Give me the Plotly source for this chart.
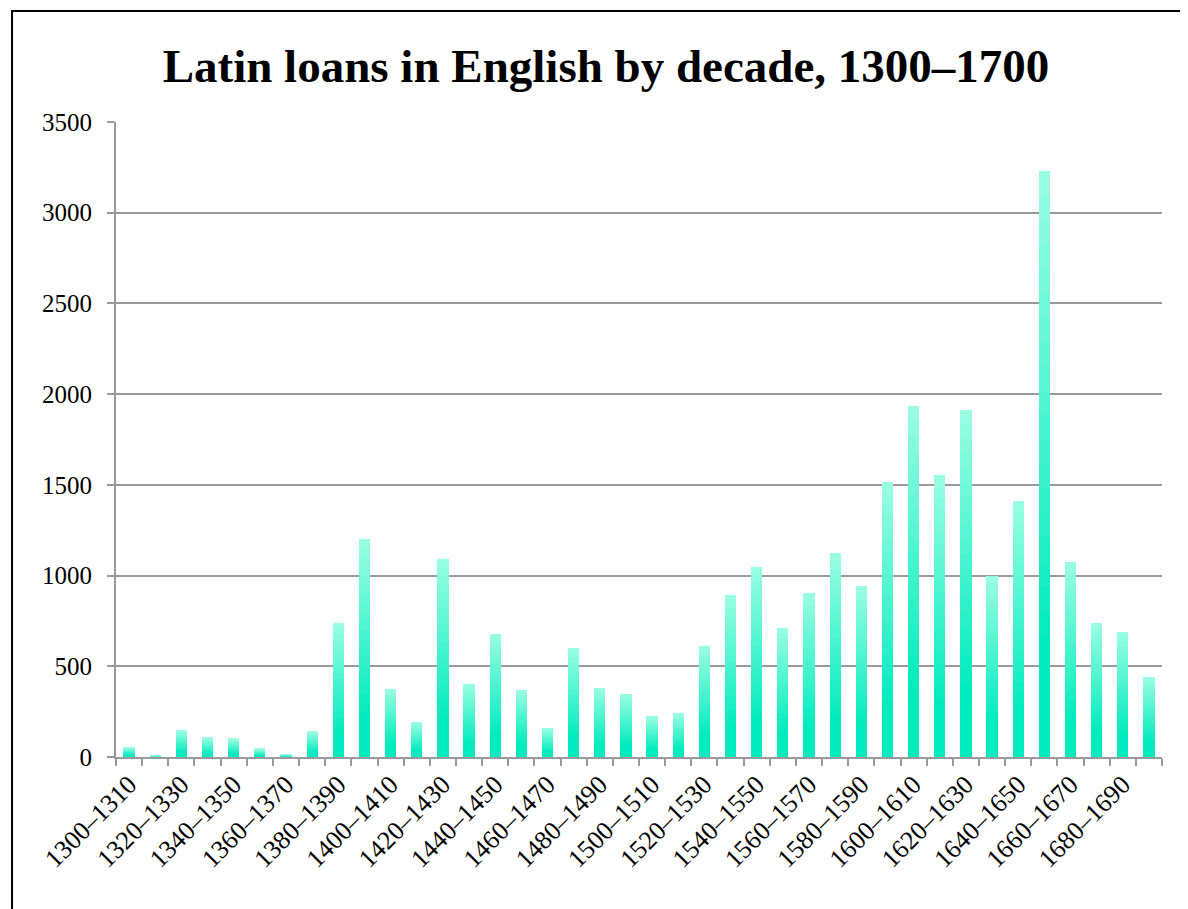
import plotly.graph_objects as go

starts = list(range(1300, 1700, 10))
categories = [f"{s}\u2013{s + 10}" for s in starts]
loans = [55, 10, 145, 105, 100, 45, 15, 140, 740, 1200,
         375, 190, 1090, 405, 680, 370, 160, 600, 380, 345,
         225, 240, 610, 895, 1050, 710, 905, 1125, 945, 1515,
         1935, 1555, 1915, 1000, 1410, 3230, 1075, 740, 690, 440]
tick_labels = [c if i % 2 == 0 else "" for i, c in enumerate(categories)]

TITLE = "Latin loans in English by decade, 1300\u20131700"

# gradient look: stack thin layers of each bar, colour going from deep to pale
BOTTOM = (0, 235, 190)
TOP = (155, 255, 226)
K = 24


def col(t):
    f = max(0.0, (t - 0.18) / 0.82)
    r, g, b = [round(BOTTOM[j] + (TOP[j] - BOTTOM[j]) * f) for j in range(3)]
    return f"rgb({r},{g},{b})"


fig = go.Figure()
for k in range(K):
    fig.add_trace(go.Bar(
        x=categories,
        y=[v / K for v in loans],
        customdata=loans,
        marker=dict(color=col((k + 0.5) / K), line=dict(width=0)),
        hovertemplate="%{x}: %{customdata}<extra></extra>",
        showlegend=False,
    ))

W, H = 1180, 901
fig.update_layout(
    width=W, height=H,
    barmode="stack", bargap=0.57,
    paper_bgcolor="white", plot_bgcolor="white",
    margin=dict(l=108, r=26, t=114, b=152),
    font=dict(family="Liberation Serif, Times New Roman, serif", color="black"),
    title=dict(text=TITLE, x=598 / W, xanchor="center", y=1 - 58 / H, yanchor="middle",
               font=dict(size=47, family="Liberation Serif, Times New Roman, serif", color="black",
                         weight="bold")),
    xaxis=dict(
        type="category", tickmode="array", tickvals=categories, ticktext=tick_labels,
        tickangle=-45, tickson="boundaries", ticks="outside", ticklen=7, tickwidth=2,
        tickcolor="#9a9a9a", showline=True, linecolor="#9a9a9a", linewidth=2,
        showgrid=False, tickfont=dict(size=26), range=[-0.5, 39.5],
    ),
    yaxis=dict(
        range=[0, 3500], dtick=500, tick0=0, ticks="outside", ticklen=7, tickwidth=2,
        tickcolor="#9a9a9a", showline=True, linecolor="#9a9a9a", linewidth=2,
        showgrid=True, gridcolor="#9a9a9a", gridwidth=2, zeroline=False,
        tickfont=dict(size=25), ticklabelstandoff=10,
    ),
    shapes=[dict(type="rect", xref="paper", yref="paper",
                 x0=-0.0994, x1=1.08, y0=-0.35, y1=1.1748,
                 line=dict(color="black", width=2), fillcolor="rgba(0,0,0,0)", layer="below")],
)

fig.write_html("out.html")
